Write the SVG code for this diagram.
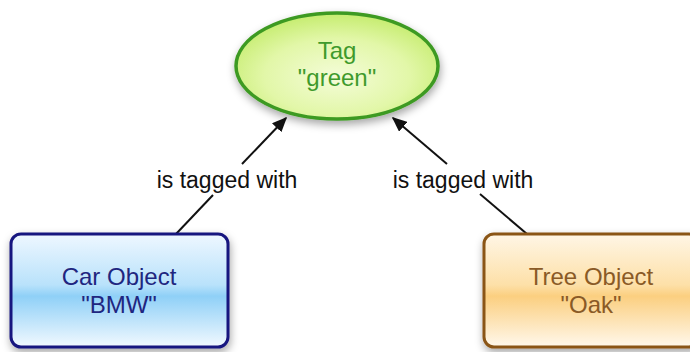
<svg xmlns="http://www.w3.org/2000/svg" width="690" height="352" viewBox="0 0 690 352">
<style>
.lbl{font-family:"Liberation Sans",Arial,sans-serif;font-size:24px;text-anchor:middle}
.edge{stroke:#111;stroke-width:2;fill:none}
.elbl{font-family:"Liberation Sans",Arial,sans-serif;font-size:23px;text-anchor:middle;fill:#111}
</style>
<defs>
<filter id="sh" x="-20%" y="-20%" width="140%" height="150%">
<feDropShadow dx="1" dy="4" stdDeviation="4" flood-color="#000" flood-opacity="0.35"/>
</filter>
<linearGradient id="gBlue" x1="0" y1="0" x2="0" y2="1">
<stop offset="0" stop-color="#eef7ff"/>
<stop offset="0.45" stop-color="#b9e2fb"/>
<stop offset="0.55" stop-color="#8fd0f7"/>
<stop offset="1" stop-color="#f2f9ff"/>
</linearGradient>
<linearGradient id="gOrange" x1="0" y1="0" x2="0" y2="1">
<stop offset="0" stop-color="#fff6e6"/>
<stop offset="0.45" stop-color="#fde0a8"/>
<stop offset="0.55" stop-color="#fbcf80"/>
<stop offset="1" stop-color="#fff8ec"/>
</linearGradient>
<radialGradient id="gGreen" cx="0.5" cy="0.6" r="0.6">
<stop offset="0" stop-color="#f4fcd8"/>
<stop offset="0.6" stop-color="#e2f7a8"/>
<stop offset="1" stop-color="#c5ec6e"/>
</radialGradient>
<marker id="arr" viewBox="0 0 10 10" refX="9" refY="5" markerWidth="15" markerHeight="13" markerUnits="userSpaceOnUse" orient="auto" preserveAspectRatio="none">
<path d="M0,0 L10,5 L0,10 z" fill="#111"/>
</marker>
</defs>
<g id="connectors">
<line class="edge" x1="176" y1="234" x2="213" y2="195"/>
<line class="edge" x1="242" y1="164" x2="286" y2="118" marker-end="url(#arr)"/>
<text class="elbl" x="227" y="188">is tagged with</text>
<line class="edge" x1="527" y1="234" x2="480" y2="194"/>
<line class="edge" x1="447" y1="164" x2="393" y2="118" marker-end="url(#arr)"/>
<text class="elbl" x="463" y="188">is tagged with</text>
</g>
<g id="tag">
<ellipse cx="337" cy="66" rx="101" ry="53" fill="url(#gGreen)" stroke="#3d9a22" stroke-width="3.5" filter="url(#sh)"/>
<text class="lbl" x="337" y="59" fill="#3f9a2c" font-size="22">Tag</text>
<text class="lbl" x="337" y="86" fill="#3f9a2c" font-size="22">"green"</text>
</g>
<g id="car">
<rect x="11" y="234" width="217" height="113" rx="10" fill="url(#gBlue)" stroke="#17137f" stroke-width="3" filter="url(#sh)"/>
<text class="lbl" x="119" y="285" fill="#1f2680">Car Object</text>
<text class="lbl" x="119" y="313" fill="#1f2680">"BMW"</text>
</g>
<g id="tree">
<rect x="484" y="234" width="215" height="113" rx="10" fill="url(#gOrange)" stroke="#8a5414" stroke-width="3" filter="url(#sh)"/>
<text class="lbl" x="591" y="285" fill="#8a5a26">Tree Object</text>
<text class="lbl" x="591" y="313" fill="#8a5a26">"Oak"</text>
</g>
</svg>
